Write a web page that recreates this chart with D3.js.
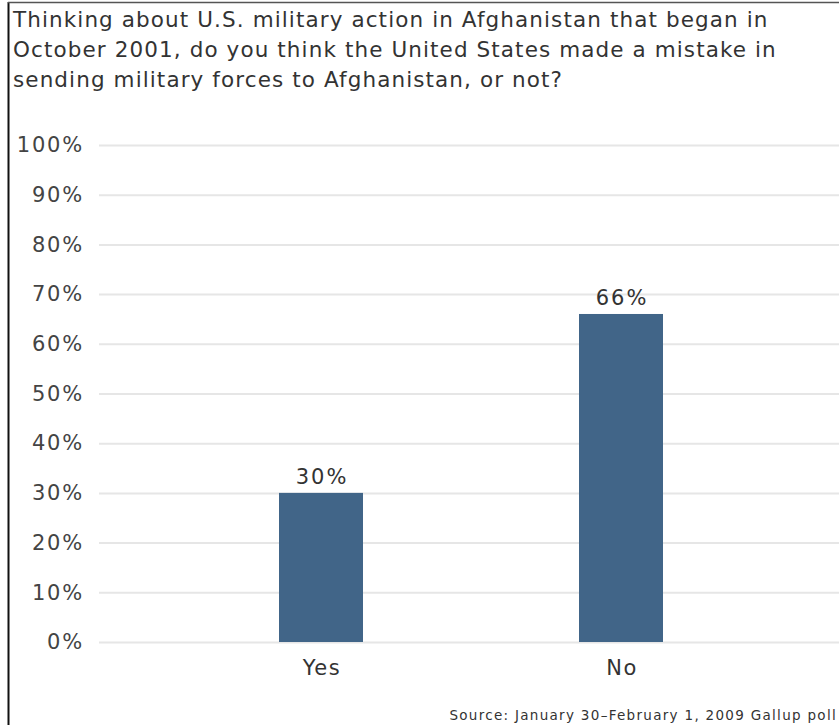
<!DOCTYPE html>
<html>
<head>
<meta charset="utf-8">
<script src="https://cdn.jsdelivr.net/npm/d3@7"></script>
<style>
  body { margin: 0; background: #fff; }
  svg { display: block; }
  text { font-family: "DejaVu Sans", Verdana, sans-serif; }
</style>
</head>
<body>
<svg id="chart" width="839" height="725"></svg>
<script>
const titleLines = [
  "Thinking about U.S. military action in Afghanistan that began in",
  "October 2001, do you think the United States made a mistake in",
  "sending military forces to Afghanistan, or not?"
];
const categories = ["Yes", "No"];
const values = [30, 66];
const yTicks = [0, 10, 20, 30, 40, 50, 60, 70, 80, 90, 100];
const sourceText = "Source: January 30\u2013February 1, 2009 Gallup poll";

const svg = d3.select("#chart");
const W = 839, H = 725;
const FONT = "DejaVu Sans, Verdana, sans-serif";

// frame (left and top border)
svg.append("line").attr("x1", 8.5).attr("x2", 8.5).attr("y1", 2).attr("y2", H)
  .attr("stroke", "#111").attr("stroke-width", 2);
svg.append("line").attr("x1", 8).attr("x2", W).attr("y1", 2.5).attr("y2", 2.5)
  .attr("stroke", "#555").attr("stroke-width", 1.5);

// title
svg.append("g").selectAll("text").data(titleLines).join("text")
  .attr("x", 13).attr("y", (d, i) => 27 + i * 30)
  .attr("font-size", 21.5).attr("letter-spacing", 1.1).attr("fill", "#333")
  .text(d => d);

const y = d3.scaleLinear().domain([0, 100]).range([642, 145]);
const x = d3.scaleBand().domain(categories).range([129, 813]).paddingInner(0.72).paddingOuter(0.5);

// grid
const grid = svg.append("g").attr("transform", "translate(99,0)")
  .call(d3.axisLeft(y).tickValues(yTicks).tickSize(-(W - 99)).tickFormat(""));
grid.select(".domain").remove();
grid.selectAll(".tick line").attr("stroke", "#e6e6e6").attr("stroke-width", 2);

// y labels
const yAxis = svg.append("g").attr("transform", "translate(84,0)")
  .call(d3.axisLeft(y).tickValues(yTicks).tickSize(0).tickPadding(0).tickFormat(d => d + "%"));
yAxis.select(".domain").remove();
yAxis.selectAll("text").attr("font-size", 21).attr("letter-spacing", 1.8).attr("fill", "#444")
  .attr("font-family", FONT);

// bars
svg.append("g").selectAll("rect").data(values).join("rect")
  .attr("x", (d, i) => x(categories[i]))
  .attr("width", x.bandwidth())
  .attr("y", d => y(d))
  .attr("height", d => y(0) - y(d))
  .attr("fill", "#416588");

// value labels
svg.append("g").selectAll("text").data(values).join("text")
  .attr("x", (d, i) => x(categories[i]) + x.bandwidth() / 2 + 1)
  .attr("y", d => y(d) - 9)
  .attr("text-anchor", "middle").attr("font-size", 21).attr("letter-spacing", 2).attr("fill", "#333")
  .text(d => d + "%");

// x axis labels
const xAxis = svg.append("g").attr("transform", "translate(1,642)")
  .call(d3.axisBottom(x).tickSize(0).tickPadding(18));
xAxis.select(".domain").remove();
xAxis.selectAll("text").attr("font-size", 21).attr("letter-spacing", 1.5).attr("fill", "#333")
  .attr("font-family", FONT);

// source
svg.append("text").attr("x", 837).attr("y", 720).attr("text-anchor", "end")
  .attr("font-size", 13.5).attr("letter-spacing", 1.3).attr("fill", "#333").text(sourceText);
</script>
</body>
</html>
